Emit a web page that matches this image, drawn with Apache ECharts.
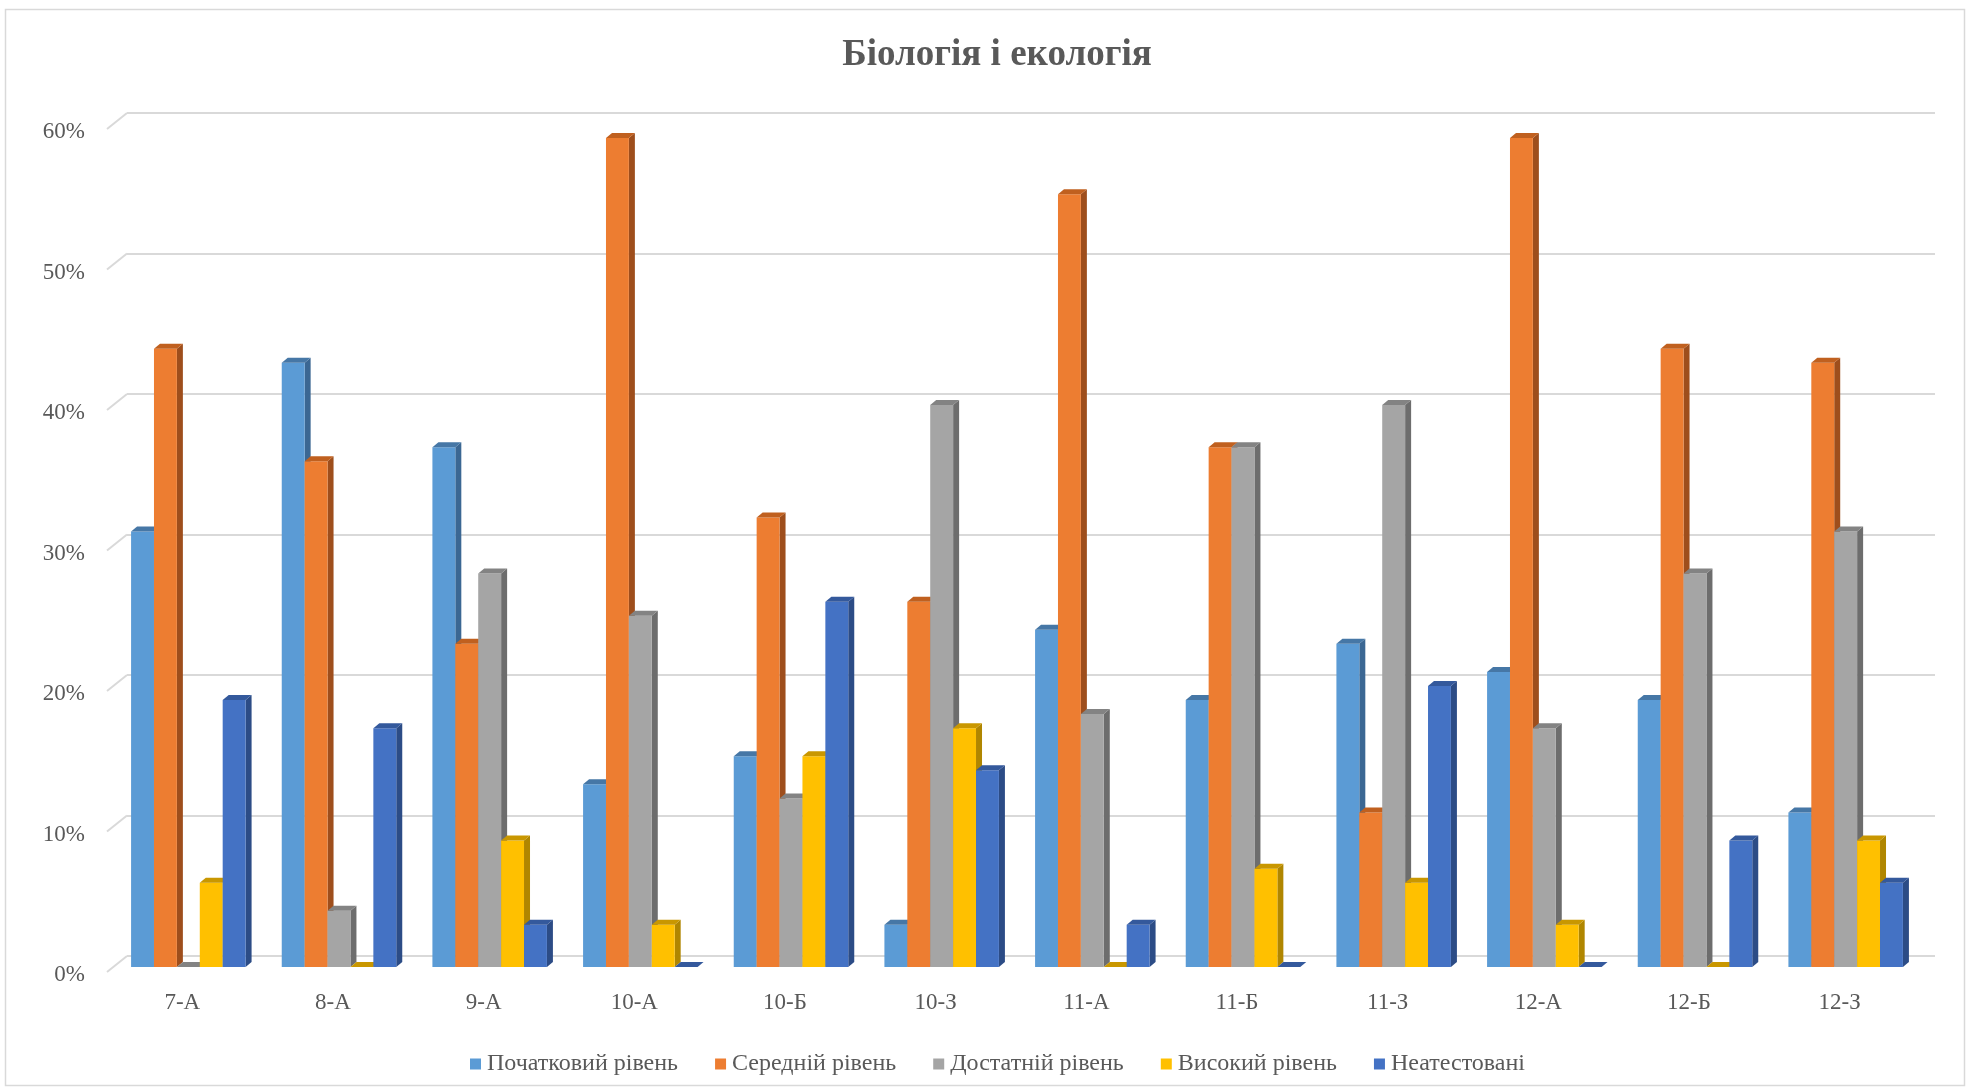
<!DOCTYPE html>
<html>
<head>
<meta charset="utf-8">
<script src="https://cdn.jsdelivr.net/npm/echarts@6/dist/echarts.min.js"></script>
<style>html,body{margin:0;padding:0;background:#fff}#c{width:1970px;height:1089px}</style>
</head>
<body>
<div id="c"></div>
<script>
const categories = ['7-А','8-А','9-А','10-А','10-Б','10-З','11-А','11-Б','11-З','12-А','12-Б','12-З'];
const seriesNames = ['Початковий рівень','Середній рівень','Достатній рівень','Високий рівень','Неатестовані'];
const initialLevel = [31,43,37,13,15,3,24,19,23,21,19,11];
const mediumLevel  = [44,36,23,59,32,26,55,37,11,59,44,43];
const sufficientLevel = [0,4,28,25,12,40,18,37,40,17,28,31];
const highLevel    = [6,0,9,3,15,17,0,7,6,3,0,9];
const notCertified = [19,17,3,0,26,14,3,0,20,0,9,6];
const yTicks = [0,10,20,30,40,50,60];

const seriesData = [initialLevel, mediumLevel, sufficientLevel, highLevel, notCertified];
const palette = [
  {front:'#5B9BD5', side:'#3B6793', top:'#4677A6'},
  {front:'#ED7D31', side:'#9E4E1C', top:'#C0601F'},
  {front:'#A5A5A5', side:'#6D6D6D', top:'#838383'},
  {front:'#FFC000', side:'#B08600', top:'#C99700'},
  {front:'#4472C4', side:'#2C4C86', top:'#34599C'}
];

const chart = echarts.init(document.getElementById('c'), null, {renderer:'canvas'});
const FONT = 'Liberation Serif';
const TXT = '#595959';
const DX = -14, DY = 11;      // front face shift from back wall
const SX = 6, SY = -5;        // depth of each bar

function makeSeries(idx){
  return {
    type:'custom',
    name: seriesNames[idx],
    xAxisIndex:0, yAxisIndex:0,
    itemStyle:{color: palette[idx].front},
    data: seriesData[idx].map((v,i)=>[i,v]),
    z: 10+idx,
    renderItem: function(params, api){
      const c = api.value(0), v = api.value(1);
      const top = api.coord([c, v]);
      const base = api.coord([c, 0]);
      const band = api.size([1,0])[0];
      const w = band*0.152;
      const x0 = top[0] + (idx-2.5)*w + DX;
      const yt = top[1] + DY, yb = base[1] + DY;
      const col = palette[idx];
      const children = [];
      if (yb - yt > 0.5) {
        children.push({type:'polygon', shape:{points:[[x0+w,yt],[x0+w+SX,yt+SY],[x0+w+SX,yb+SY],[x0+w,yb]]}, style:{fill:col.side}});
        children.push({type:'rect', shape:{x:x0, y:yt, width:w, height:yb-yt}, style:{fill:col.front}});
      }
      children.push({type:'polygon', shape:{points:[[x0,yt],[x0+SX,yt+SY],[x0+w+SX,yt+SY],[x0+w,yt]]}, style:{fill:col.top}});
      return {type:'group', children};
    }
  };
}

const diagSeries = {
  type:'custom', xAxisIndex:0, yAxisIndex:0, silent:true, z:1,
  data: yTicks.map(v=>[0,v]),
  renderItem: function(params, api){
    const p = api.coord([0, api.value(1)]);
    const band = api.size([1,0])[0];
    const xl = p[0] - band/2;
    return {type:'line', shape:{x1:xl, y1:p[1], x2:xl-20, y2:p[1]+16}, style:{stroke:'#D9D9D9', lineWidth:2}};
  }
};

const option = {
  backgroundColor:'#fff',
  animation:false,
  title:{
    text:'Біологія і екологія', left:992, textAlign:'center', top:32,
    textStyle:{fontFamily:FONT, fontWeight:'bold', fontSize:37, color:TXT}
  },
  legend:{
    data: seriesNames, left:465, top:1047,
    icon:'rect', itemWidth:11, itemHeight:11, itemGap:37,
    textStyle:{fontFamily:FONT, fontSize:24, color:TXT, padding:[0,0,0,1]}
  },
  grid:[
    {left:127, right:35, top:113, bottom:133},
    {left:107, right:55, top:132, bottom:114}
  ],
  xAxis:[
    {type:'category', gridIndex:0, data:categories, axisLine:{show:false}, axisTick:{show:false}, axisLabel:{show:false}},
    {type:'category', gridIndex:1, data:categories, axisLine:{show:false}, axisTick:{show:false},
     axisLabel:{fontFamily:FONT, fontSize:23, color:TXT, margin:16}}
  ],
  yAxis:[
    {type:'value', gridIndex:0, min:0, max:60, interval:10, axisLine:{show:false}, axisTick:{show:false}, axisLabel:{show:false},
     splitLine:{lineStyle:{color:'#D9D9D9', width:2}}},
    {type:'value', gridIndex:1, min:0, max:60, interval:10, axisLine:{show:false}, axisTick:{show:false}, splitLine:{show:false},
     axisLabel:{fontFamily:FONT, fontSize:23, color:TXT, margin:22, formatter:'{value}%'}}
  ],
  graphic:[{type:'rect', shape:{x:5.5, y:9.5, width:1959, height:1076}, style:{fill:'none', stroke:'#D9D9D9', lineWidth:1.5}, silent:true, z:-1}],
  series:[diagSeries].concat(seriesNames.map((n,i)=>makeSeries(i)))
};
chart.setOption(option);
</script>
</body>
</html>
